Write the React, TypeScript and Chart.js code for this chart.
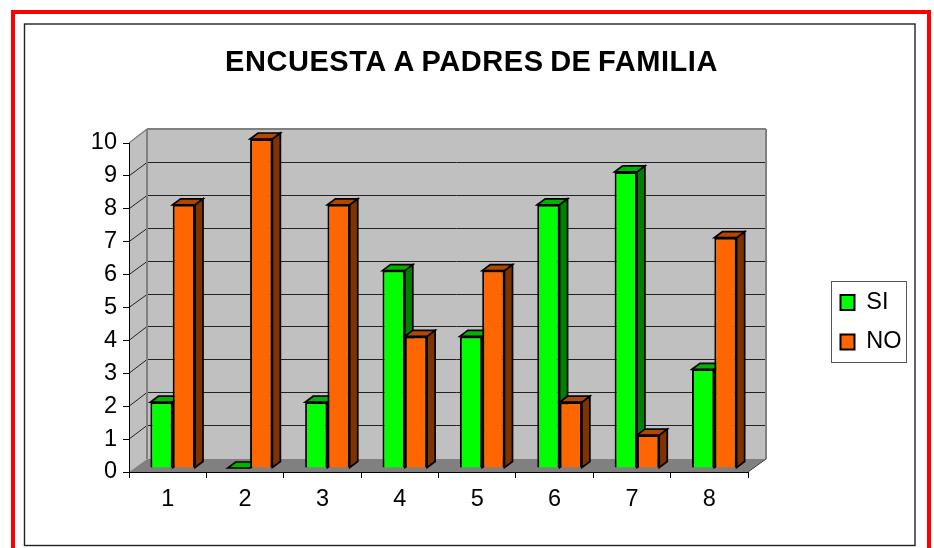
import React, { useEffect, useRef } from "react";
import { Chart, registerables } from "chart.js";

Chart.register(...registerables);

const categories = ["1", "2", "3", "4", "5", "6", "7", "8"];
const siValues = [2, 0, 2, 6, 4, 8, 9, 3];
const noValues = [8, 10, 8, 4, 6, 2, 1, 7];
const titleText = "ENCUESTA A PADRES DE FAMILIA";

const FONT = "'Liberation Sans', Arial, sans-serif";
const WALL_DX = 18;
const WALL_DY = 14;
const BAR_SHIFT_X = 5;
const BAR_SHIFT_Y = -4;
const BAR_DX = 8;
const BAR_DY = -6;

const faces: Record<number, { top: string; side: string }> = {
  0: { top: "#00b300", side: "#007f00" },
  1: { top: "#b34700", side: "#7f3300" },
};

function poly(ctx: CanvasRenderingContext2D, pts: number[][], fill?: string, stroke?: string, lw = 1) {
  ctx.beginPath();
  pts.forEach((p, i) => (i ? ctx.lineTo(p[0], p[1]) : ctx.moveTo(p[0], p[1])));
  ctx.closePath();
  if (fill) {
    ctx.fillStyle = fill;
    ctx.fill();
  }
  if (stroke) {
    ctx.strokeStyle = stroke;
    ctx.lineWidth = lw;
    ctx.stroke();
  }
}

function seg(ctx: CanvasRenderingContext2D, x0: number, y0: number, x1: number, y1: number, color: string, lw: number) {
  ctx.beginPath();
  ctx.moveTo(x0, y0);
  ctx.lineTo(x1, y1);
  ctx.strokeStyle = color;
  ctx.lineWidth = lw;
  ctx.stroke();
}

const chart3d = {
  id: "chart3d",
  afterUpdate(chart: any) {
    const lg = chart.legend;
    lg.left = 824.5;
    lg.top = 274.75;
    lg.right = 907;
    lg.bottom = 430;
    lg.width = 82.5;
    lg.height = 155.25;
    lg.adjustHitBoxes();
    // the title is centred over the plot and legend, not over the whole canvas
    const tb = chart.titleBlock;
    tb.left = 24;
    tb.right = 919;
    if (!tb._spaced) {
      tb._spaced = true;
      const original = tb.draw.bind(tb);
      tb.draw = () => {
        const ctx: any = chart.ctx;
        ctx.letterSpacing = "0.55px";
        ctx.wordSpacing = "-2px";
        original();
        ctx.letterSpacing = "0px";
        ctx.wordSpacing = "0px";
      };
    }
  },
  beforeDraw(chart: any) {
    const ctx: CanvasRenderingContext2D = chart.ctx;
    const { left, right, top, bottom } = chart.chartArea;
    const y = chart.scales.y;
    ctx.save();
    ctx.fillStyle = "#ffffff";
    ctx.fillRect(0, 0, chart.width, chart.height);
    // page frames
    ctx.strokeStyle = "#ff0000";
    ctx.lineWidth = 4;
    ctx.strokeRect(13, 12, 916, 560);
    ctx.strokeStyle = "#222222";
    ctx.lineWidth = 1.4;
    ctx.strokeRect(24.5, 24, 890.5, 521.5);
    // walls
    const bL = left + WALL_DX;
    const bR = right + WALL_DX;
    const bT = top - WALL_DY;
    const bB = bottom - WALL_DY + 1;
    poly(ctx, [[bL, bT], [bR, bT], [bR, bB], [bL, bB]], "#c0c0c0");
    poly(ctx, [[left, top], [bL, bT], [bL, bB], [left, bottom]], "#c0c0c0");
    poly(ctx, [[left, bottom], [right, bottom], [bR, bB], [bL, bB]], "#808080");
    y.ticks.forEach((t: any) => {
      const py = y.getPixelForValue(t.value);
      if (t.value > 0 && t.value < 10) {
        const by = Math.round(py - WALL_DY) + 0.5;
        seg(ctx, bL, by, bR, by, "#222222", 1);
        seg(ctx, left, py, bL, by, "#222222", 1);
      }
    });
    seg(ctx, left, top, bL, bT, "#808080", 1.5);
    seg(ctx, bL, bT, bR, bT, "#808080", 2);
    seg(ctx, bL, bT, bL, bB, "#808080", 2);
    seg(ctx, bR, bT, bR, bB, "#808080", 2);
    seg(ctx, right, bottom, bR, bB, "#404040", 1);
    ctx.restore();
  },
  // SI is painted first so that NO covers its side faces, as in the picture
  beforeDatasetsDraw(chart: any) {
    const ctx: CanvasRenderingContext2D = chart.ctx;
    [0, 1].forEach((index) => {
      const meta = chart.getDatasetMeta(index);
      const colors = faces[index];
      ctx.save();
      ctx.translate(BAR_SHIFT_X, BAR_SHIFT_Y);
      ctx.lineJoin = "miter";
      meta.data.forEach((el: any) => {
        const { x, y, base, width } = el.getProps(["x", "y", "base", "width"], true);
        const x0 = x - width / 2;
        const x1 = x + width / 2;
        poly(ctx, [[x1, y], [x1 + BAR_DX, y + BAR_DY], [x1 + BAR_DX, base + BAR_DY], [x1, base]], colors.side, "#000000", 1.7);
        poly(ctx, [[x0, y], [x0 + BAR_DX, y + BAR_DY], [x1 + BAR_DX, y + BAR_DY], [x1, y]], colors.top, "#000000", 1.7);
      });
      meta.controller.draw();
      ctx.restore();
    });
    return false;
  },
  afterDraw(chart: any) {
    const ctx: CanvasRenderingContext2D = chart.ctx;
    ctx.save();
    ctx.strokeStyle = "#555555";
    ctx.lineWidth = 1;
    ctx.strokeRect(831.5, 281.5, 75, 81);
    ctx.restore();
  },
};

export default function App() {
  const ref = useRef<HTMLCanvasElement>(null);

  useEffect(() => {
    document.body.style.margin = "0";
    const chart = new Chart(ref.current as HTMLCanvasElement, {
      type: "bar",
      data: {
        labels: categories,
        datasets: [
          {
            label: "SI",
            data: siValues,
            backgroundColor: "#00ff00",
            borderColor: "#000000",
            borderWidth: 2,
            clip: false,
          },
          {
            label: "NO",
            data: noValues,
            backgroundColor: "#ff6600",
            borderColor: "#000000",
            borderWidth: 2,
            clip: false,
          },
        ],
      } as any,
      options: {
        responsive: false,
        animation: false,
        events: [],
        font: { family: FONT },
        color: "#000000",
        layout: { padding: { left: 9, right: 99, top: 0, bottom: 0 } },
        datasets: { bar: { categoryPercentage: 0.577, barPercentage: 1 } },
        plugins: {
          tooltip: { enabled: false },
          title: {
            display: true,
            text: titleText,
            color: "#000000",
            font: { family: FONT, size: 29, weight: "bold" },
            padding: { top: 45.3, bottom: 62.9 },
          },
          legend: {
            display: true,
            position: "right",
            align: "start",
            fullSize: false,
            maxWidth: 100,
            labels: {
              boxWidth: 14,
              boxHeight: 15,
              padding: 16,
              color: "#000000",
              font: { family: FONT, size: 23.5 },
            },
          },
        },
        scales: {
          x: {
            afterFit(scale: any) {
              scale.height = 76;
            },
            grid: { drawOnChartArea: false, drawTicks: true, tickLength: 6, color: "#000000", lineWidth: 1 },
            border: { color: "#000000", width: 1 },
            ticks: { color: "#000000", padding: 7, maxRotation: 0, font: { family: FONT, size: 23.5 } },
          },
          y: {
            min: 0,
            max: 10,
            afterFit(scale: any) {
              scale.width = 120;
            },
            grid: { drawOnChartArea: false, drawTicks: true, tickLength: 6, color: "#000000", lineWidth: 1 },
            border: { color: "#000000", width: 1 },
            ticks: { color: "#000000", stepSize: 1, padding: 6, font: { family: FONT, size: 23.5 } },
          },
        },
      } as any,
      plugins: [chart3d],
    });
    return () => chart.destroy();
  }, []);

  return <canvas ref={ref} width={934} height={548} style={{ display: "block" }} />;
}
